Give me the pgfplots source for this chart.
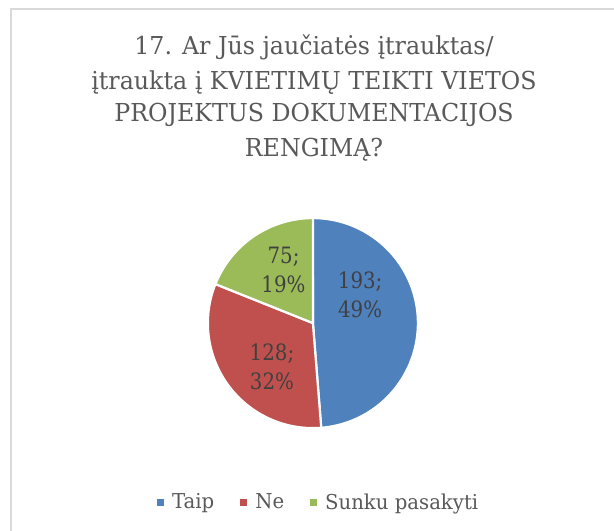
\documentclass[border=0pt]{standalone}
\usepackage{pgfplots}
\pgfplotsset{compat=1.18}
\usepackage{pgfplotstable}
\usepackage{fontspec}
\setmainfont{DejaVu Serif}[FakeStretch=0.96]
\newfontfamily\lblfont{DejaVu Serif}[FakeStretch=0.88]
\definecolor{cTaip}{HTML}{4F81BD}
\definecolor{cNe}{HTML}{C0504D}
\definecolor{cSunku}{HTML}{9BBB59}
\definecolor{txtgray}{HTML}{595959}
\definecolor{lblgray}{HTML}{404040}
\definecolor{bordergray}{HTML}{D9D9D9}
\pgfplotstableread{
cat value
Taip 193
Ne 128
Sunku 75
}\piedata
\begin{document}%
\begin{tikzpicture}[x=1bp,y=1bp]
\pgfplotstablegetelem{0}{value}\of\piedata \let\vA\pgfplotsretval
\pgfplotstablegetelem{1}{value}\of\piedata \let\vB\pgfplotsretval
\pgfplotstablegetelem{2}{value}\of\piedata \let\vC\pgfplotsretval
\pgfmathsetmacro{\tot}{\vA+\vB+\vC}
\pgfmathsetmacro{\aA}{90}
\pgfmathsetmacro{\aB}{90-360*(\vA/\tot)}
\pgfmathsetmacro{\aC}{\aB-360*(\vB/\tot)}
\pgfmathsetmacro{\aD}{\aC-360*(\vC/\tot)}
\draw[bordergray, line width=1.5bp] (11,0) -- (11,522) -- (614,522);
\begin{scope}[every node/.style={anchor=base, text=txtgray, font=\fontsize{24.7bp}{30bp}\selectfont, inner sep=0pt}]
\node at (314,476) {17. Ar Jūs jaučiatės įtrauktas/};
\node at (314,441) {įtraukta į KVIETIMŲ TEIKTI VIETOS};
\node at (314,409) {PROJEKTUS DOKUMENTACIJOS};
\node at (314,374) {RENGIMĄ?};
\end{scope}
\begin{axis}[at={(298,198)}, anchor=origin, scale only axis,
  width=210bp, height=210bp, xmin=-1, xmax=1, ymin=-1, ymax=1,
  hide axis, clip=false,
  legend columns=-1,
  legend image code/.code={\fill[#1,draw=none] (0bp,-3.5bp) rectangle (7bp,3.5bp);},
  legend style={at={(-0.243,-0.352)}, anchor=west, draw=none, fill=none, inner sep=0pt,
    nodes={inner sep=0pt, text=txtgray, font=\fontsize{20.5bp}{24bp}\selectfont},
    /tikz/every even column/.append style={column sep=26bp},
    /tikz/every odd column/.append style={column sep=8bp}},
  ]
\addplot[fill=cTaip, draw=white, line width=2.2bp, line join=round, variable=\t, samples at={-1,0,...,101}]
  ({(\t<0||\t>100)?0:cos(\aA+(\aB-\aA)*\t/100)}, {(\t<0||\t>100)?0:sin(\aA+(\aB-\aA)*\t/100)});
\addlegendentry{Taip}
\addplot[fill=cNe, draw=white, line width=2.2bp, line join=round, variable=\t, samples at={-1,0,...,101}]
  ({(\t<0||\t>100)?0:cos(\aB+(\aC-\aB)*\t/100)}, {(\t<0||\t>100)?0:sin(\aB+(\aC-\aB)*\t/100)});
\addlegendentry{Ne}
\addplot[fill=cSunku, draw=white, line width=2.2bp, line join=round, variable=\t, samples at={-1,0,...,101}]
  ({(\t<0||\t>100)?0:cos(\aC+(\aD-\aC)*\t/100)}, {(\t<0||\t>100)?0:sin(\aC+(\aD-\aC)*\t/100)});
\addlegendentry{Sunku pasakyti}
\begin{scope}[every node/.style={align=center, text=lblgray, font=\lblfont\fontsize{22.5bp}{29bp}\selectfont}]
\node at (axis cs:0.45,0.27) {193;\\49\%};
\node at (axis cs:-0.39,-0.42) {128;\\32\%};
\node at (axis cs:-0.28,0.51) {75;\\19\%};
\end{scope}
\end{axis}
\pgfresetboundingbox
\useasboundingbox (0,0) rectangle (614,531);
\end{tikzpicture}%
\end{document}
